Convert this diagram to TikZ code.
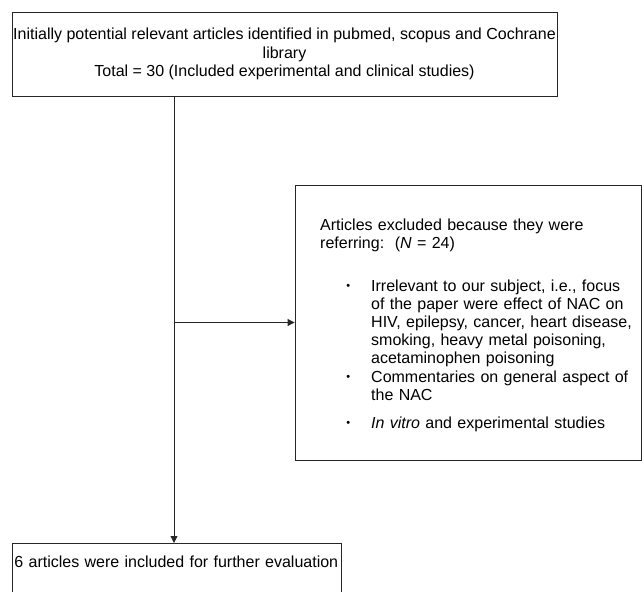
\documentclass[tikz,border=0pt]{standalone}
\usepackage{fontspec}
\setmainfont{Liberation Sans}
\usetikzlibrary{arrows.meta,positioning}

\newcommand{\exitem}[1]{\par{\leftskip=51bp\noindent\llap{\raisebox{1.5bp}{\fontsize{11bp}{11bp}\selectfont\textbullet}\hspace{21bp}}#1\par}}

\begin{document}
\begin{tikzpicture}[x=1bp, y=-1bp,
    box/.style={draw=black!85, line width=0.9bp},
    txt/.style={font=\fontsize{16bp}{18.2bp}\selectfont},
    link/.style={draw=black!85, line width=0.9bp},
    >={Triangle[length=7bp,width=7bp]}]
    \useasboundingbox (0,0) rectangle (642,592);
    \clip (0,0) rectangle (642,592);

    % Search box
    \node[box, txt, align=center, minimum width=545bp, minimum height=84bp, inner xsep=1bp] (search) at (284.5,54)
        {Initially potential relevant articles identified in pubmed, scopus and Cochrane\\library\\Total = 30 (Included experimental and clinical studies)};

    % Excluded articles
    \node[box, minimum width=346bp, minimum height=275bp] (exclude) at (468,322.5) {};
    \node[txt, text width=321bp, inner sep=0pt, anchor=north west] (excludetext) at (320,218.3) {%
        \noindent Articles excluded because they were\\
        referring:\ \ (\textit{N} = 24)\par
        \vspace{24.6bp}
        \exitem{Irrelevant to our subject, i.e., focus\\of the paper were effect of NAC on\\HIV, epilepsy, cancer, heart disease,\\smoking, heavy metal poisoning,\\acetaminophen poisoning}
        \exitem{Commentaries on general aspect of\\the NAC}
        \vspace{9.6bp}
        \exitem{\textit{In vitro} and experimental studies}};

    % Included articles
    \node[box, txt, anchor=north west, text width=325bp, inner xsep=2bp, inner ysep=13bp, text height=11.5bp, text depth=30bp] (include) at (12,543)
        {6 articles were included for further evaluation};

    % Connectors
    \coordinate (split) at (174,322.5);
    \draw[link] (search.south -| split) -- (split);
    \draw[link, ->] (split) -- (exclude.west);
    \draw[link, ->] (split) -- (include.north -| split);
\end{tikzpicture}
\end{document}
